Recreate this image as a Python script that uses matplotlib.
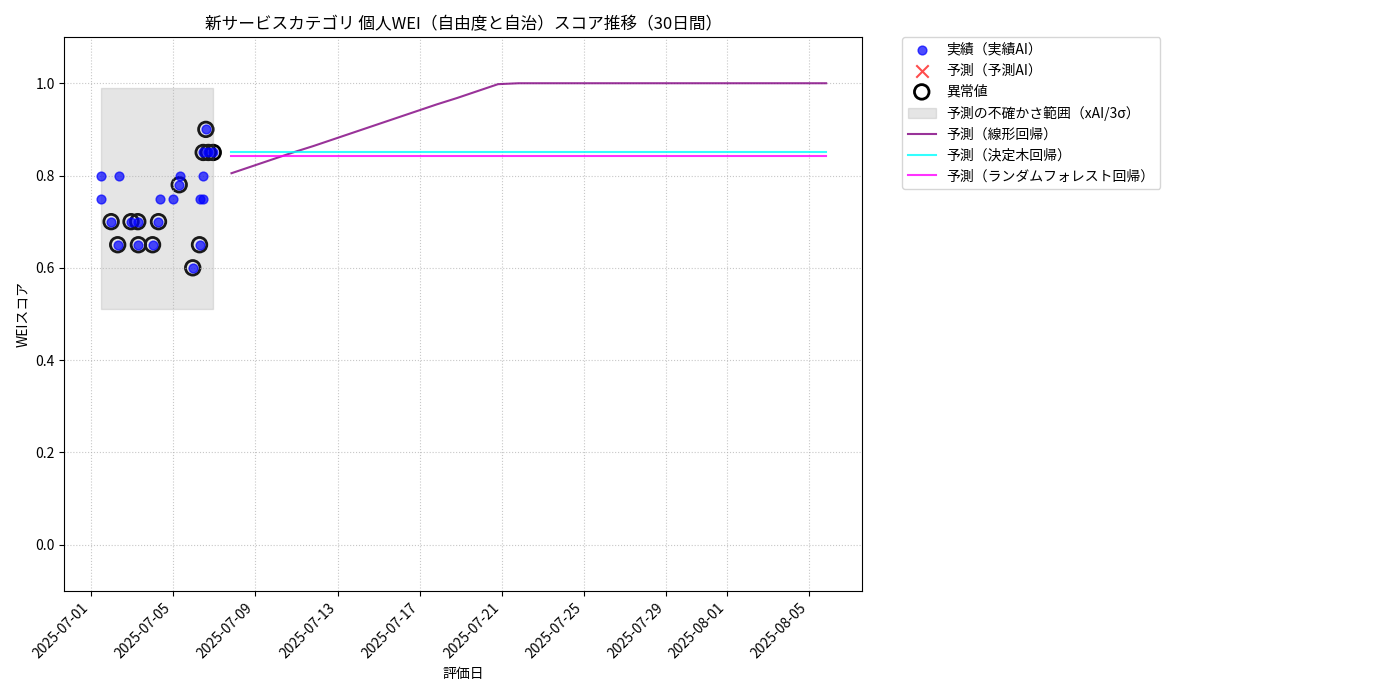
import matplotlib
matplotlib.use("Agg")
import matplotlib.pyplot as plt
import matplotlib.dates as mdates
import numpy as np
import pandas as pd

plt.rcParams['font.family'] = ['Noto Sans CJK JP', 'DejaVu Sans']

# actual scores (day offset from 2025-07-01 00:00, score)
act_days = [0.45, 0.45, 0.96, 1.28, 1.33, 1.93, 2.26, 2.29, 2.98, 3.27, 3.33,
            3.97, 4.28, 4.31, 4.94, 5.27, 5.27, 5.43, 5.43, 5.45, 5.58, 5.70, 5.94]
act_vals = [0.80, 0.75, 0.70, 0.65, 0.80, 0.70, 0.70, 0.65, 0.65, 0.70, 0.75,
            0.75, 0.78, 0.80, 0.60, 0.75, 0.65, 0.75, 0.80, 0.85, 0.90, 0.85, 0.85]
is_anomaly = [0, 0, 1, 1, 0, 1, 1, 1, 1, 1, 0,
              0, 1, 0, 1, 0, 1, 0, 0, 1, 1, 1, 1]

# uncertainty band (xAI / 3 sigma)
band_low = 0.51
band_high = 0.99

# 30-day forecasts
fc_start_day = 6.83
lin_vals = [0.805, 0.820, 0.835, 0.850, 0.864, 0.879, 0.894, 0.909, 0.924, 0.939,
            0.954, 0.968, 0.983, 0.998, 1.0, 1.0, 1.0, 1.0, 1.0, 1.0,
            1.0, 1.0, 1.0, 1.0, 1.0, 1.0, 1.0, 1.0, 1.0, 1.0]
tree_vals = [0.85] * 30
rf_vals = [0.842] * 30

base = pd.Timestamp("2025-07-01")
act_dates = [base + pd.Timedelta(days=d) for d in act_days]
fc_dates = [base + pd.Timedelta(days=fc_start_day + i) for i in range(len(lin_vals))]

fig, ax = plt.subplots(figsize=(14, 7), dpi=100)

ax.scatter(act_dates, act_vals, color='blue', alpha=0.7, s=40, zorder=3,
           label='実績（実績AI）')
ax.scatter([], [], color='red', marker='x', s=80, alpha=0.7, label='予測（予測AI）')
an_dates = [d for d, a in zip(act_dates, is_anomaly) if a]
an_vals = [v for v, a in zip(act_vals, is_anomaly) if a]
ax.scatter(an_dates, an_vals, facecolors='none', edgecolors='black', s=110,
           linewidths=2, label='異常値')
ax.fill_between([min(act_dates), max(act_dates)], band_low, band_high,
                color='gray', alpha=0.2, label='予測の不確かさ範囲（xAI/3σ）')

ax.plot(fc_dates, lin_vals, color='purple', alpha=0.8, label='予測（線形回帰）')
ax.plot(fc_dates, tree_vals, color='cyan', alpha=0.8, label='予測（決定木回帰）')
ax.plot(fc_dates, rf_vals, color='magenta', alpha=0.8, label='予測（ランダムフォレスト回帰）')

ax.set_ylim(-0.1, 1.1)
ax.set_title('新サービスカテゴリ 個人WEI（自由度と自治）スコア推移（30日間）', fontsize=12)
ax.set_xlabel('評価日')
ax.set_ylabel('WEIスコア')
ax.xaxis.set_major_formatter(mdates.DateFormatter('%Y-%m-%d'))
plt.setp(ax.get_xticklabels(), rotation=45, ha='right')
ax.grid(True, linestyle=':', alpha=0.7)
ax.legend(bbox_to_anchor=(1.05, 1), loc='upper left', borderaxespad=0)

fig.subplots_adjust(left=0.046, right=0.616, top=0.947, bottom=0.156)
fig.savefig('out.png')
